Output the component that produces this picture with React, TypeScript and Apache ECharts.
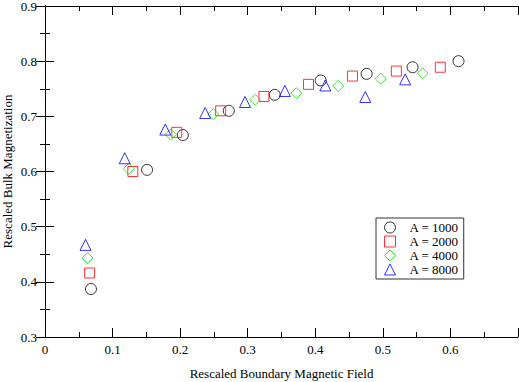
import React, { useEffect, useRef } from "react";
import * as echarts from "echarts";

const seriesNames = ["A = 1000", "A = 2000", "A = 4000", "A = 8000"];

const a1000: [number, number][] = [
  [0.068, 0.387], [0.151, 0.603], [0.204, 0.666], [0.272, 0.71], [0.34, 0.739],
  [0.408, 0.765], [0.476, 0.777], [0.544, 0.789], [0.612, 0.8],
];
const a2000: [number, number][] = [
  [0.066, 0.416], [0.13, 0.6], [0.195, 0.671], [0.26, 0.71], [0.324, 0.736],
  [0.39, 0.758], [0.455, 0.773], [0.52, 0.782], [0.585, 0.789],
];
const a4000: [number, number][] = [
  [0.063, 0.443], [0.124, 0.605], [0.186, 0.667], [0.249, 0.704], [0.311, 0.73],
  [0.372, 0.742], [0.434, 0.755], [0.497, 0.768], [0.559, 0.778],
];
const a8000: [number, number][] = [
  [0.06, 0.467], [0.118, 0.624], [0.178, 0.676], [0.237, 0.706], [0.296, 0.726],
  [0.355, 0.746], [0.415, 0.756], [0.474, 0.735], [0.533, 0.767],
];

const seriesData = [a1000, a2000, a4000, a8000];
const symbols = ["circle", "rect", "diamond", "triangle"];
const colors = ["#000000", "#ff0000", "#00e000", "#0000ff"];
const symbolSizes = [11, 10, 11, 11];

const xTickLabels = ["0", "0.1", "0.2", "0.3", "0.4", "0.5", "0.6"];
const yTickLabels = ["0.3", "0.4", "0.5", "0.6", "0.7", "0.8", "0.9"];

const FONT = "Liberation Serif";

export default function App() {
  const ref = useRef<HTMLDivElement>(null);
  useEffect(() => {
    if (!ref.current) return;
    const chart = echarts.init(ref.current, undefined, { renderer: "svg" });
    const axisLine = { show: true, lineStyle: { color: "#000", width: 1 } };
    const tick = { show: true, inside: true, length: 9, lineStyle: { color: "#000", width: 1 } };
    const minor = { show: true, splitNumber: 2, length: 5, lineStyle: { color: "#000", width: 1 } };
    chart.setOption({
      animation: false,
      backgroundColor: "#fff",
      textStyle: { fontFamily: FONT },
      grid: { left: 45, top: 6, right: 1, bottom: 45, containLabel: false, outerBoundsMode: "none" },
      legend: {
        left: 376,
        top: 218,
        orient: "vertical",
        data: seriesNames,
        borderColor: "#333",
        borderWidth: 1,
        padding: [3, 5, 3, 8],
        itemGap: 1,
        itemWidth: 11,
        itemHeight: 11,
        itemStyle: { borderWidth: 1 },
        textStyle: { fontFamily: FONT, fontSize: 13, color: "#000", padding: [0, 0, 0, 9] },
      },
      xAxis: [
        {
          type: "value",
          min: 0,
          max: 0.7,
          interval: 0.1,
          name: "Rescaled Boundary Magnetic Field",
          nameLocation: "middle",
          nameGap: 30,
          nameMoveOverlap: false,
          nameTextStyle: { fontFamily: FONT, fontSize: 13, color: "#000" },
          axisLine,
          axisTick: tick,
          minorTick: minor,
          splitLine: { show: false },
          axisLabel: {
            fontFamily: FONT,
            fontSize: 13,
            color: "#000",
            margin: 6,
            formatter: (v: number) => {
              const i = Math.round(v * 10);
              return i < xTickLabels.length ? xTickLabels[i] : "";
            },
          },
        },
        {
          type: "value",
          position: "top",
          min: 0,
          max: 0.7,
          interval: 0.1,
          axisLine,
          axisTick: tick,
          minorTick: minor,
          splitLine: { show: false },
          axisLabel: { show: false },
        },
      ],
      yAxis: [
        {
          type: "value",
          min: 0.3,
          max: 0.9,
          interval: 0.1,
          name: "Rescaled Bulk Magnetization",
          nameLocation: "middle",
          nameGap: 31,
          nameMoveOverlap: false,
          nameTextStyle: { fontFamily: FONT, fontSize: 13, color: "#000" },
          axisLine,
          axisTick: tick,
          minorTick: minor,
          splitLine: { show: false },
          axisLabel: {
            fontFamily: FONT,
            fontSize: 13,
            color: "#000",
            margin: 8,
            formatter: (v: number) => {
              const i = Math.round(v * 10) - 3;
              return yTickLabels[i] ?? "";
            },
          },
        },
        {
          type: "value",
          position: "right",
          min: 0.3,
          max: 0.9,
          interval: 0.1,
          axisLine,
          axisTick: tick,
          minorTick: minor,
          splitLine: { show: false },
          axisLabel: { show: false },
        },
      ],
      series: seriesNames.map((name, i) => ({
        name,
        type: "scatter",
        data: seriesData[i],
        symbol: symbols[i],
        symbolSize: symbolSizes[i],
        xAxisIndex: 0,
        yAxisIndex: 0,
        itemStyle: { color: "rgba(0,0,0,0)", borderColor: colors[i], borderWidth: 1 },
      })),
    });
    return () => chart.dispose();
  }, []);
  return <div ref={ref} style={{ width: 519, height: 382, position: "absolute", left: 0, top: 0 }} />;
}
